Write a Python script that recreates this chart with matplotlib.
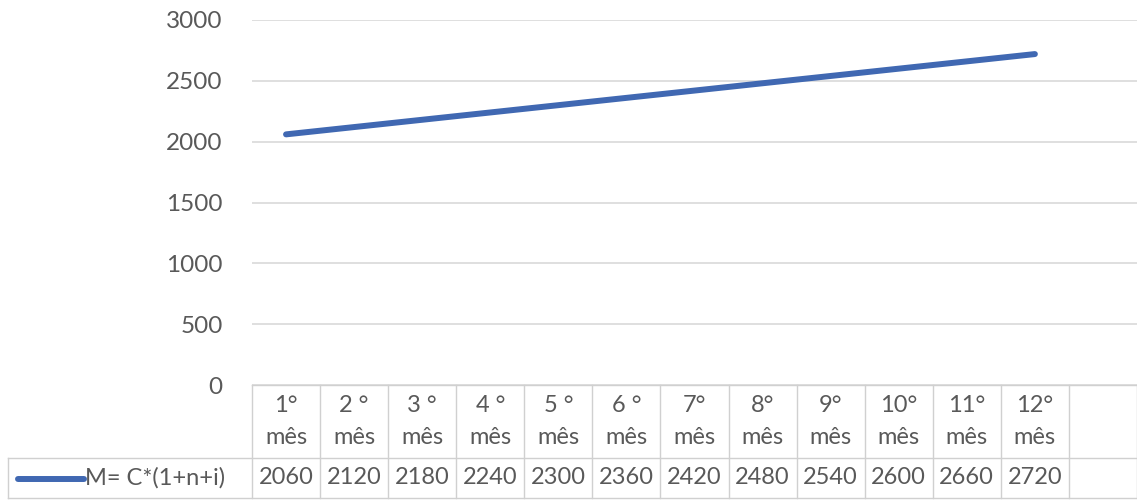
import numpy as np
import matplotlib
matplotlib.use("Agg")
from matplotlib import pyplot as plt
from matplotlib.transforms import blended_transform_factory

months = ["1°", "2 °", "3 °", "4 °", "5 °", "6 °", "7°", "8°", "9°", "10°", "11°", "12°"]
values = [2060, 2120, 2180, 2240, 2300, 2360, 2420, 2480, 2540, 2600, 2660, 2720]
series_name = "M= C*(1+n+i)"
y_ticks = [0, 500, 1000, 1500, 2000, 2500, 3000]

line_color = "#4068b2"
text_color = "#595959"
grid_color = "#d9d9d9"
table_color = "#d0d0d0"

plt.rcParams['font.family'] = ['Lato', 'DejaVu Sans']

W, H = 1137, 500
fig = plt.figure(figsize=(W / 100, H / 100), dpi=100)

# plot area in pixels: x 252..1137, y 20..385 (from top)
ax = fig.add_axes([252 / W, (H - 385) / H, (W - 252) / W, 365 / H])
n_slots = len(months) + 1  # one empty category at the end
x = np.arange(len(values))
ax.plot(x, values, color=line_color, linewidth=4.3, solid_capstyle='round')

ax.set_xlim(-0.5, n_slots - 0.5)
ax.set_ylim(0, 3000)
ax.set_yticks(y_ticks)
ax.set_yticklabels([str(t) for t in y_ticks])
ax.set_xticks([])
ax.tick_params(axis='y', length=0, pad=21, labelsize=17.5, labelcolor=text_color)
ax.grid(axis='y', color=grid_color, linewidth=1.2)
ax.set_axisbelow(True)
for s in ax.spines.values():
    s.set_visible(False)

# data table below the plot
tr = blended_transform_factory(ax.transData, fig.transFigure)
y_top = (H - 385) / H
y_mid = (H - 458) / H
y_bot = (H - 498) / H
left_px = 8 / W

for i in range(n_slots + 1):
    ax.plot([i - 0.5, i - 0.5], [y_bot, y_top], transform=tr, color=table_color,
            linewidth=1, clip_on=False)
ax.plot([-0.5, n_slots - 0.5], [y_top, y_top], transform=tr, color=table_color,
        linewidth=1, clip_on=False)
fig.add_artist(plt.Line2D([left_px, 1], [y_mid, y_mid], color=table_color, linewidth=1))
fig.add_artist(plt.Line2D([left_px, 1], [y_bot, y_bot], color=table_color, linewidth=1))
fig.add_artist(plt.Line2D([left_px, left_px], [y_bot, y_mid], color=table_color, linewidth=1))

for i, (m, v) in enumerate(zip(months, values)):
    ax.text(i, (H - 405) / H, m, transform=tr, ha='center', va='center',
            fontsize=17, color=text_color)
    ax.text(i, (H - 437) / H, "mês", transform=tr, ha='center', va='center',
            fontsize=17, color=text_color)
    ax.text(i, (H - 478) / H, str(v), transform=tr, ha='center', va='center',
            fontsize=17, color=text_color)

# legend key in the table's first cell
fig.add_artist(plt.Line2D([18 / W, 84 / W], [(H - 479) / H, (H - 479) / H],
                          color=line_color, linewidth=4.3, solid_capstyle='round'))
fig.text(85 / W, (H - 478) / H, series_name, ha='left', va='center',
         fontsize=17, color=text_color)

fig.savefig("out.png", dpi=100)
